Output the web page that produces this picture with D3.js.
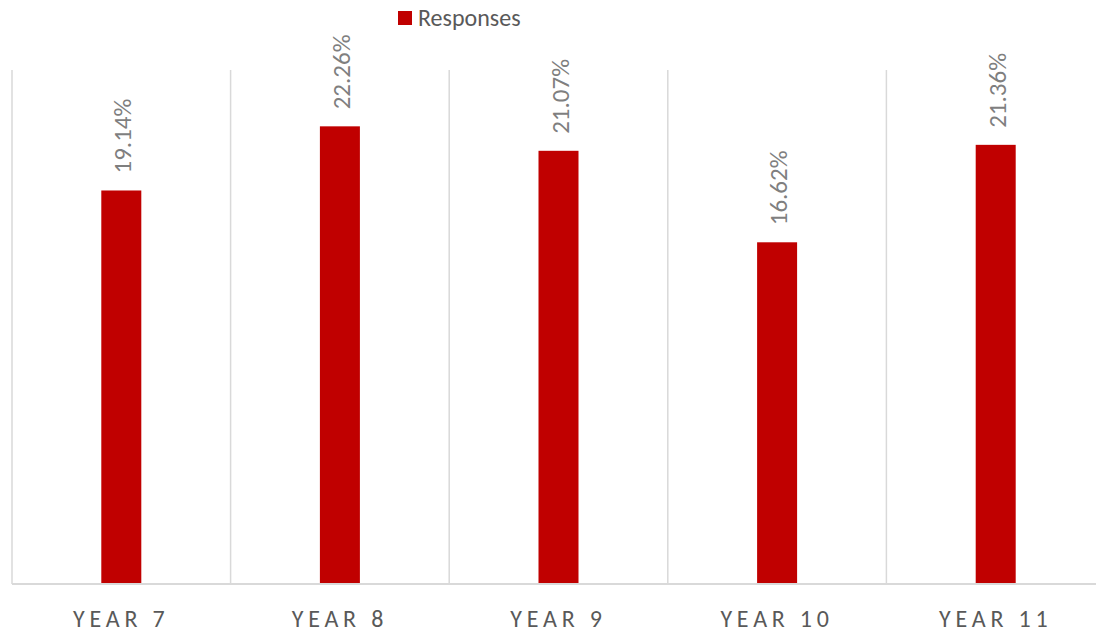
<!DOCTYPE html>
<html><head><meta charset="utf-8">
<script src="https://cdn.jsdelivr.net/npm/d3@7"></script>
<style>body{margin:0;background:#fff;} svg{display:block;}</style>
</head><body>
<svg id="c" width="1096" height="633"></svg>
<script>
const categories = ["YEAR 7","YEAR 8","YEAR 9","YEAR 10","YEAR 11"];
const values = [19.14, 22.26, 21.07, 16.62, 21.36];
const seriesName = "Responses";

(function(){
const svg = d3.select("#c");
const font = "Carlito, 'Liberation Sans', sans-serif";
const pLeft = 12, pRight = 1105, pTop = 70, pBottom = 584;
const x = d3.scaleBand().domain(categories).range([pLeft, pRight]);
const y = d3.scaleLinear().domain([0, 25]).range([pBottom, pTop]);
const barW = 40;

const edges = categories.map(c => x(c)).concat([pRight]);
svg.selectAll("line.grid").data(edges).enter().append("line")
  .attr("x1", d => d).attr("x2", d => d).attr("y1", pTop).attr("y2", pBottom)
  .attr("stroke", "#d9d9d9").attr("stroke-width", 1.5);

svg.selectAll("rect.bar").data(values).enter().append("rect")
  .attr("x", (d,i) => x(categories[i]) + x.bandwidth()/2 - barW/2)
  .attr("y", d => y(d)).attr("width", barW).attr("height", d => pBottom - y(d))
  .attr("fill", "#c00000");

svg.append("line").attr("x1", pLeft).attr("x2", pRight).attr("y1", pBottom).attr("y2", pBottom)
  .attr("stroke", "#d9d9d9").attr("stroke-width", 2);

svg.selectAll("text.val").data(values).enter().append("text")
  .attr("transform", (d,i) => `translate(${x(categories[i]) + x.bandwidth()/2 + 10},${y(d) - 17}) rotate(-90)`)
  .attr("font-family", font).attr("font-size", 25)
  .attr("fill", "#7f7f7f").text(d => d.toFixed(2) + "%");

svg.selectAll("text.cat").data(categories).enter().append("text")
  .attr("x", d => x(d) + x.bandwidth()/2).attr("y", 627)
  .attr("text-anchor", "middle")
  .attr("font-family", font).attr("font-size", 24)
  .attr("letter-spacing", 4.8).attr("fill", "#595959").text(d => d);

svg.append("rect").attr("x", 398).attr("y", 11).attr("width", 14).attr("height", 14).attr("fill", "#c00000");
svg.append("text").attr("x", 418).attr("y", 26)
  .attr("font-family", font).attr("font-size", 24)
  .attr("fill", "#595959").text(seriesName);
})();
</script>
</body></html>
